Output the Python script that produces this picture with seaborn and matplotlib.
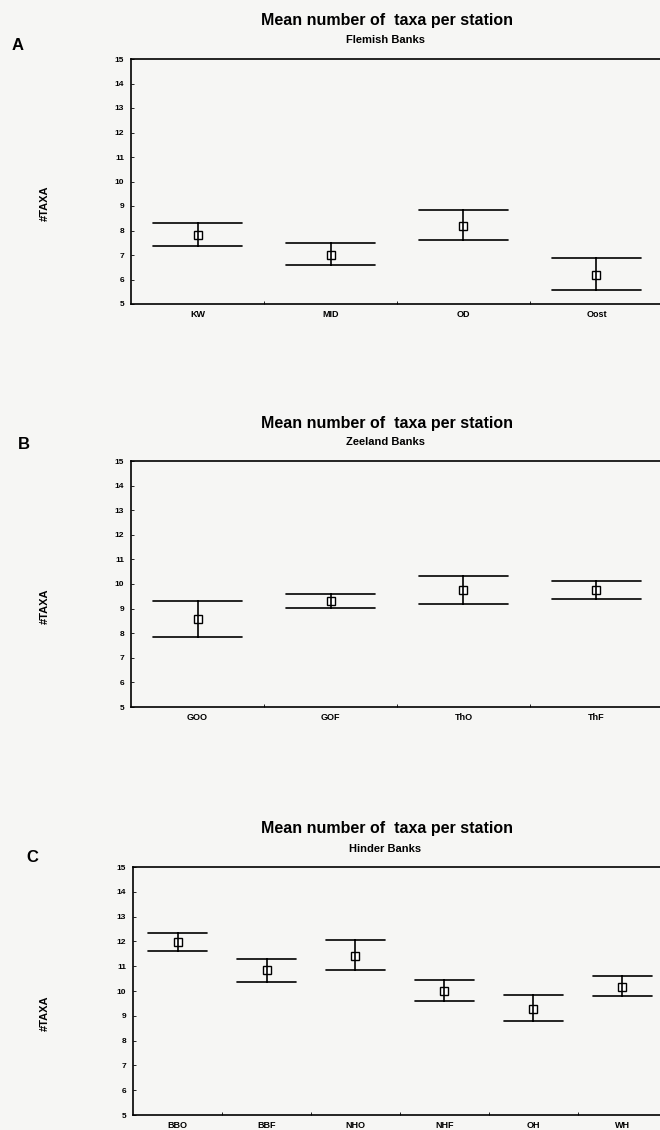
import numpy as np
import pandas as pd
import matplotlib
matplotlib.use("Agg")
import matplotlib.pyplot as plt
from matplotlib.ticker import FixedLocator
import seaborn as sns

sns.set_theme(style="white")
plt.rcParams['font.family'] = ['Liberation Sans', 'DejaVu Sans']
plt.rcParams['text.color'] = 'black'
plt.rcParams['xtick.color'] = 'black'
plt.rcParams['ytick.color'] = 'black'
plt.rcParams['axes.labelcolor'] = 'black'

# Panel A - Flemish Banks
cats_a = ["KW", "MID", "OD", "Oost"]
mean_a = [7.82, 7.02, 8.19, 6.20]
low_a = [7.37, 6.58, 7.62, 5.56]
high_a = [8.30, 7.47, 8.83, 6.87]

# Panel B - Zeeland Banks
cats_b = ["GOO", "GOF", "ThO", "ThF"]
mean_b = [8.59, 9.30, 9.75, 9.76]
low_b = [7.86, 9.02, 9.19, 9.40]
high_b = [9.30, 9.60, 10.33, 10.13]

# Panel C - Hinder Banks
cats_c = ["BBO", "BBF", "NHO", "NHF", "OH", "WH"]
mean_c = [11.97, 10.84, 11.43, 10.01, 9.29, 10.17]
low_c = [11.61, 10.38, 10.84, 9.59, 8.78, 9.78]
high_c = [12.35, 11.31, 12.05, 10.45, 9.82, 10.59]

yticks = list(range(5, 16))

W, H = 660, 1130
fig = plt.figure(figsize=(W / 100, H / 100), dpi=100)
fig.patch.set_facecolor("#f6f6f4")

panels = [
    ("A", "Flemish Banks", cats_a, mean_a, low_a, high_a, 131, 59, 304, 133, 20, 40, 45, 18),
    ("B", "Zeeland Banks", cats_b, mean_b, low_b, high_b, 131, 461, 707, 133, 423, 442, 444, 24),
    ("C", "Hinder Banks", cats_c, mean_c, low_c, high_c, 133, 867, 1115, 89, 829, 849, 858, 32),
]

for (letter, sub, cats, mean, low, high, left, top, bottom, spacing,
     ty, sy, ly, lx) in panels:
    n = len(cats)
    ax = fig.add_axes([left / W, 1 - bottom / H, n * spacing / W, (bottom - top) / H])
    ax.set_facecolor("none")
    df = pd.DataFrame({
        "station": np.repeat(cats, 3),
        "taxa": np.ravel(np.column_stack([low, mean, high])),
    })
    sns.pointplot(data=df, x="station", y="taxa", order=cats,
                  estimator=np.median, errorbar=("pi", 100),
                  capsize=0.67, color="black", markers="s", linestyles="none",
                  markersize=5.5, markerfacecolor="white", markeredgecolor="black",
                  markeredgewidth=1.0, err_kws={"linewidth": 1.2}, ax=ax)
    ax.set_ylim(5, 15)
    ax.set_xlim(-0.5, n - 0.5)
    ax.set_yticks(yticks)
    ax.set_yticklabels([str(t) for t in yticks], fontsize=6, fontweight="bold")
    ax.tick_params(axis="y", length=2, width=0.6, pad=5, direction="in", left=True)
    ax.tick_params(axis="x", length=0, pad=4, labelsize=6.5)
    for lab in ax.get_xticklabels():
        lab.set_fontweight("bold")
    ax.xaxis.set_minor_locator(FixedLocator(np.arange(0.5, n - 0.5, 1)))
    ax.tick_params(axis="x", which="minor", length=2, width=0.6, direction="in", bottom=True)
    ax.set_xlabel("")
    ax.set_ylabel("")
    for s in ["top", "left", "bottom", "right"]:
        ax.spines[s].set_color("black")
        ax.spines[s].set_linewidth(1.2)
    fig.text(45 / W, 1 - ((top + bottom) / 2 + 22) / H, "#TAXA", rotation=90,
             ha="center", va="center", fontsize=8, fontweight="bold")
    fig.text(387 / W, 1 - ty / H, "Mean number of  taxa per station",
             ha="center", va="center", fontsize=11.5, fontweight="bold")
    fig.text(385 / W, 1 - sy / H, sub, ha="center", va="center",
             fontsize=8, fontweight="bold")
    fig.text(lx / W, 1 - ly / H, letter, ha="center", va="center",
             fontsize=12, fontweight="bold")

fig.savefig("out.png", dpi=100, facecolor=fig.get_facecolor())
